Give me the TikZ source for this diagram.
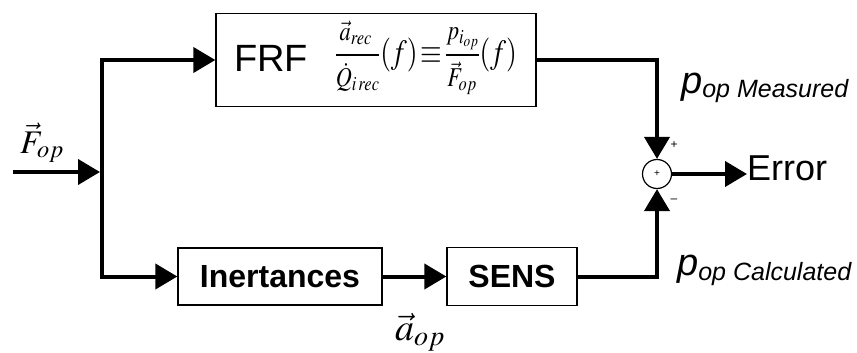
\documentclass[tikz,border=0pt]{standalone}
\usepackage{mathptmx}
\usepackage[no-math]{fontspec}
\setsansfont{Liberation Sans}
\usepackage{graphicx}
\usetikzlibrary{arrows.meta}
\newcommand{\fr}[1]{\scalebox{.8}{$\displaystyle #1$}}
\tikzset{
  sig/.style={line width=4pt, -{Triangle[length=22pt,width=25pt]}},
  blk/.style={draw, line width=1.3pt, rectangle, inner sep=0pt, font=\sffamily\bfseries\fontsize{32}{38}\selectfont},
  lbl/.style={inner sep=0pt, anchor=base west},
}
\begin{document}
\begin{tikzpicture}[x=1pt,y=-1pt]
\useasboundingbox (0,0) rectangle (857,353);
% blocks
\node[blk, minimum width=320pt, minimum height=93pt] (frf) at (376,60) {};
\node[lbl, font=\sffamily\fontsize{38}{44}\selectfont] (frft) at (234,72) {FRF};
\node[inner sep=0pt] (form) at (426,58) {\resizebox*{182pt}{74pt}{\fontsize{38}{44}\selectfont$\displaystyle\frac{\fr{\vec{a}_{rec}}}{\fr{\dot{Q}_{i\,rec}}}(f)\!\equiv\!\frac{\fr{p_{i_{op}}}}{\fr{\vec{F}_{op}}}(f)$}};
\node[blk, minimum width=204pt, minimum height=57pt] (inert) at (280,276.5) {Inertances};
\node[blk, minimum width=130pt, minimum height=58pt] (sens) at (512,276.5) {SENS};
\node[draw, circle, line width=1.2pt, minimum size=29pt, inner sep=0pt, font=\sffamily\fontsize{10}{12}\selectfont] (sum) at (657,174) {+};
% coordinates
\coordinate (in) at (13,172);
\coordinate (jin) at (100,172);
\coordinate (jtop) at (102,60);
\coordinate (jbot) at (102,276.5);
% connectors
\draw[sig] (in) -- (jin);
\draw[sig] (jbot) |- (frf.west);
\draw[sig] (jtop) |- (inert.west);
\draw[sig] (inert.east) -- (sens.west);
\draw[sig] (frf.east) -| (sum.north);
\draw[sig] (sens.east) -| (sum.south);
\node[lbl, font=\sffamily\fontsize{36}{42}\selectfont] (err) at (747,180) {Error};
\draw[sig] (sum.east) -- (sum.east -| err.west);
% labels
\node[lbl] (fop) at (20,153) {\fontsize{33}{40}\selectfont$\vec{F}_{op}$};
\node[lbl] (aop) at (395,340) {\fontsize{38}{44}\selectfont$\vec{a}_{op}$};
\node[lbl, font=\sffamily\itshape] (pm) at (681,93) {\fontsize{38}{44}\selectfont p\fontsize{25}{30}\selectfont\raisebox{-5pt}{op Measured}};
\node[lbl, font=\sffamily\itshape] (pc) at (677,275) {\fontsize{38}{44}\selectfont p\fontsize{25}{30}\selectfont\raisebox{-5pt}{op Calculated}};
\node[inner sep=0pt, font=\sffamily\fontsize{12}{14}\selectfont] (plus) at (674,145) {+};
\node[inner sep=0pt, font=\sffamily\fontsize{12}{14}\selectfont] (minus) at (674,201) {\textendash};
\end{tikzpicture}
\end{document}
